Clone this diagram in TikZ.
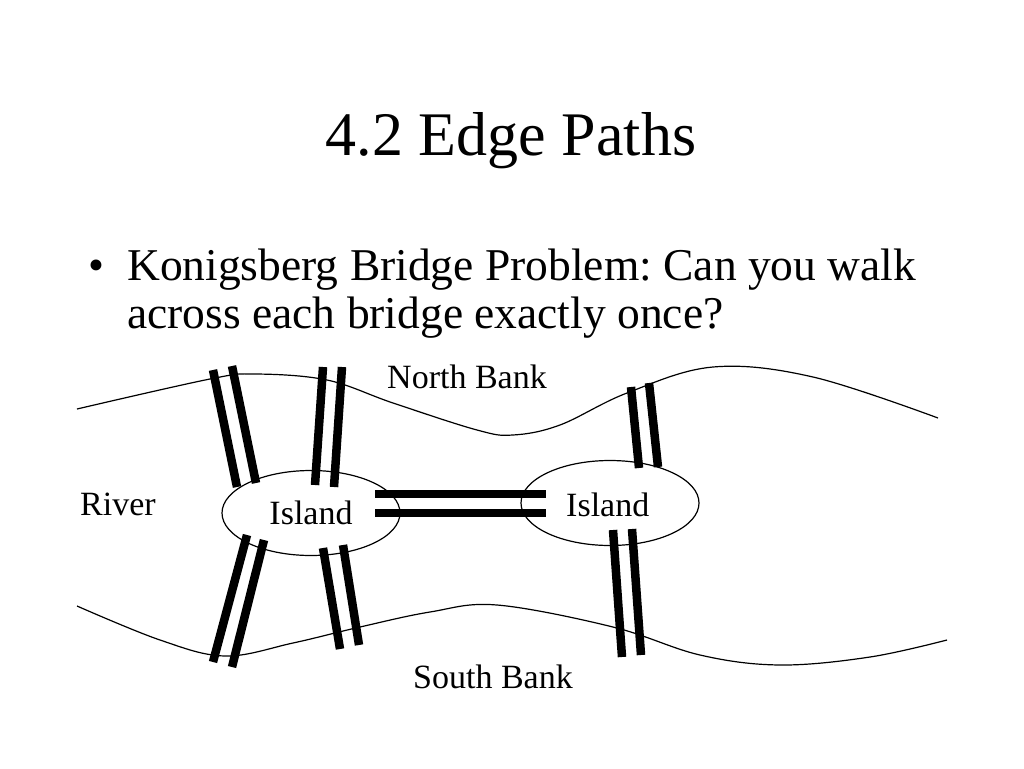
\documentclass[tikz,border=0pt]{standalone}
\usepackage{fontspec}
\setmainfont{Liberation Serif}
\usetikzlibrary{shapes.geometric,positioning}
\frenchspacing

\begin{document}
\begin{tikzpicture}[x=1pt,y=-1pt,
    bank/.style={line width=1.2pt},
    bridge/.style={line width=8.5pt},
    island/.style={draw,ellipse,line width=1.2pt,minimum width=178pt,minimum height=85pt,inner sep=0pt,font=\fontsize{34}{36}\selectfont},
    lbl/.style={inner sep=0pt,anchor=base west,font=\fontsize{34}{36}\selectfont}]
    \path[fill=white] (0,0) rectangle (1024,768);
    % title and bullet
    \node[inner sep=0pt,anchor=base,font=\fontsize{62}{64}\selectfont] (title) at (511,155) {4.2 Edge Paths};
    \node[inner sep=0pt,anchor=base west,font=\fontsize{45.5}{48}\selectfont] (dot) at (88,280) {\textbullet};
    \node[inner sep=0pt,anchor=base west,align=left,font=\fontsize{45.5}{48}\selectfont] (question) at (127,328)
        {Konigsberg Bridge Problem: Can you walk\\across each bridge exactly once?};
    % river banks
    \draw[bank] plot[smooth,tension=0.6] coordinates {(77,409) (210,379) (255,374) (327,380) (393,403) (477,430) (513,435) (560,425) (627,393) (713,367) (813,377) (938,418)};
    \draw[bank] plot[smooth,tension=0.6] coordinates {(77,606) (160,640) (225,656) (293,643) (360,627) (430,612) (497,605) (613,627) (700,655) (780,665) (870,657) (947,640)};
    % islands
    \node[island] (west) at (311,513) {Island};
    \node[island] (east) at (610,503) {};
    \node[lbl] (eastname) at (566,516) {Island};
    % bridges
    \foreach \ax/\ay/\bx/\by in {213/370/237/487, 232/366/256/483,
        323/367/315/485, 342/367/334/487,
        247/535/213/662, 264/540/232/667,
        323/548/340/649, 343/545/359/645,
        631/387/639/468, 649/383/658/467,
        613/530/622/657, 632/529/641/655,
        375/494/546/494, 375/513/546/513}
        \draw[bridge] (\ax,\ay) -- (\bx,\by);
    % labels
    \node[lbl] (north) at (387,388) {North Bank};
    \node[lbl] (south) at (413,688) {South Bank};
    \node[lbl] (river) at (80,515) {River};
\end{tikzpicture}
\end{document}
